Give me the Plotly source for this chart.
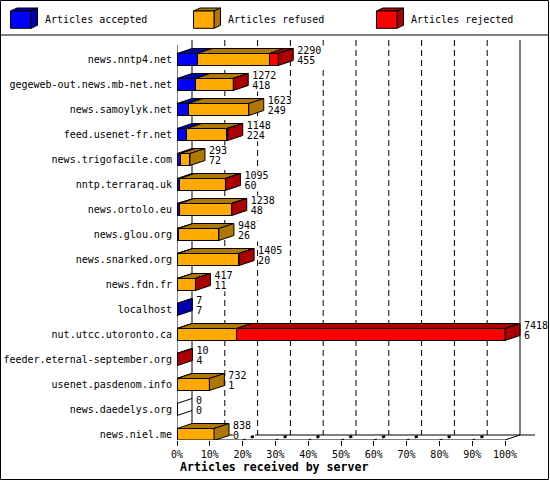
import plotly.graph_objects as go

servers = ["news.nntp4.net", "gegeweb-out.news.mb-net.net", "news.samoylyk.net", "feed.usenet-fr.net",
           "news.trigofacile.com", "nntp.terraraq.uk", "news.ortolo.eu", "news.glou.org",
           "news.snarked.org", "news.fdn.fr", "localhost", "nut.utcc.utoronto.ca",
           "feeder.eternal-september.org", "usenet.pasdenom.info", "news.daedelys.org", "news.niel.me"]
received = [2290, 1272, 1623, 1148, 293, 1095, 1238, 948, 1405, 417, 7, 7418, 10, 732, 0, 838]
accepted = [455, 418, 249, 224, 72, 60, 48, 26, 20, 11, 7, 6, 4, 1, 0, 0]
refused = [1632, 850, 1374, 904, 221, 1030, 1180, 922, 1375, 400, 0, 1338, 0, 731, 0, 838]
rejected = [203, 4, 0, 20, 0, 5, 10, 0, 10, 6, 0, 6074, 6, 0, 0, 0]
percent_ticks = [0, 10, 20, 30, 40, 50, 60, 70, 80, 90, 100]
series_names = ["Articles accepted", "Articles refused", "Articles rejected"]
front_colors = ["#0000FF", "#FFAA00", "#FF0000"]
dark_colors = ["#0000AA", "#AF7800", "#AA0000"]

W, H = 550, 480
L, R, T, B = 177, 5, 36, 40
PX_PER_PCT = 3.28
ROW_PX = 25.0
ROW0_PX = 59.5
DX_PX, DY_PX = 15, 5
BAR_PX = 12

DX = DX_PX / PX_PER_PCT
DY = DY_PX / ROW_PX
HALF = BAR_PX / ROW_PX / 2
TEXT = "DejaVu Sans Mono"
scale = 100.0 / max(received)


def px_x(p):
    return (p - L) / PX_PER_PCT


def px_y(p):
    return (p - ROW0_PX) / ROW_PX


def pap_x(p):
    return (p - L) / (W - L - R)


def pap_y(p):
    return 1 - (p - T) / (H - T - B)


rows = list(range(len(servers)))
all_series = [accepted, refused, rejected]
fig = go.Figure()

# front faces
for name, vals, col in zip(series_names, all_series, front_colors):
    fig.add_bar(y=rows, x=[v * scale for v in vals], orientation="h", name=name, width=2 * HALF,
                marker=dict(color=col, line=dict(color="black", width=1)), showlegend=False)

# top and side faces
tops = [([], []) for _ in all_series]
sides = [([], []) for _ in all_series]
bare_x, bare_y = [], []
for i in rows:
    start = 0.0
    last = None
    yt, yb = i - HALF, i + HALF
    for k, vals in enumerate(all_series):
        if vals[i] <= 0:
            continue
        end = start + vals[i] * scale
        tops[k][0].extend([start, start + DX, end + DX, end, start, None])
        tops[k][1].extend([yt, yt - DY, yt - DY, yt, yt, None])
        start = end
        last = k
    if last is None:
        bare_x.extend([0, DX, None, 0, DX, None])
        bare_y.extend([yt, yt - DY, None, yb, yb - DY, None])
    else:
        sides[last][0].extend([start, start + DX, start + DX, start, start, None])
        sides[last][1].extend([yt, yt - DY, yb - DY, yb, yt, None])

for k, name in enumerate(series_names):
    for xs, ys in (tops[k], sides[k]):
        if xs:
            fig.add_scatter(x=xs, y=ys, mode="lines", fill="toself", fillcolor=dark_colors[k],
                            line=dict(color="black", width=1), hoverinfo="skip",
                            showlegend=False, cliponaxis=False, name=name)

# floor pieces
fx, fy = [], []
blob_x, blob_y = [], []
base = px_y(440)
fx += [px_x(161.7), 0, None, 0, 100, None, 100, 100 + DX, None]
fy += [px_y(445), base, None, base, base, None, base, base - DY, None]
for t in percent_ticks[2:-1]:
    fx += [t, t + 0.2 * DX, None]
    fy += [base, base - 0.2 * DY, None]
    blob_x += [t + 0.55 * DX, t + 0.75 * DX, None]
    blob_y += [base - 0.55 * DY, base - 0.75 * DY, None]
fig.add_scatter(x=fx + bare_x, y=fy + bare_y, mode="lines", line=dict(color="black", width=1),
                hoverinfo="skip", showlegend=False, cliponaxis=False)
fig.add_scatter(x=blob_x, y=blob_y, mode="lines", line=dict(color="black", width=2.5),
                hoverinfo="skip", showlegend=False, cliponaxis=False)

# value labels
lab_x = [v * scale + 19 / PX_PER_PCT for v in received]
upper_y = [i - 8.5 / ROW_PX for i in rows]
lower_y = [i + 2 / ROW_PX for i in rows]
fig.add_scatter(x=lab_x, y=upper_y, mode="text", text=[str(v) for v in received],
                textposition="middle right", textfont=dict(family=TEXT, size=10, color="black"),
                hoverinfo="skip", showlegend=False, cliponaxis=False)
fig.add_scatter(x=lab_x, y=lower_y, mode="text", text=[str(v) for v in accepted],
                textposition="middle right", textfont=dict(family=TEXT, size=10, color="black"),
                hoverinfo="skip", showlegend=False, cliponaxis=False)

shapes = []
# back-plane grid and axes, under the bars
for t in percent_ticks:
    solid = t in (0, 100)
    shapes.append(dict(type="line", xref="x", yref="y", x0=t + DX, x1=t + DX,
                       y0=px_y(40), y1=px_y(435), layer="below",
                       line=dict(color="black", width=1, dash="solid" if solid else "6px,4px")))
shapes.append(dict(type="line", xref="x", yref="y", x0=DX, x1=px_x(535), y0=px_y(435), y1=px_y(435),
                   layer="below", line=dict(color="black", width=1)))
shapes.append(dict(type="line", xref="x", yref="y", x0=0, x1=0, y0=px_y(45), y1=px_y(440),
                   layer="below", line=dict(color="black", width=1)))

# value labels mask the grid behind them
for i, x, tot, acc in zip(rows, lab_x, received, accepted):
    chars = max(len(str(tot)), len(str(acc)))
    shapes.append(dict(type="rect", xref="x", yref="y", x0=x, x1=x + (chars * 6 + 4) / PX_PER_PCT,
                       y0=i - 14 / ROW_PX, y1=i + 7 / ROW_PX, layer="below",
                       fillcolor="white", line=dict(width=0)))

# frame and legend band
shapes.append(dict(type="rect", xref="paper", yref="paper", x0=pap_x(0.5), x1=pap_x(548.5),
                   y0=pap_y(479.5), y1=pap_y(0.5), line=dict(color="black", width=1), fillcolor="rgba(0,0,0,0)"))
shapes.append(dict(type="line", xref="paper", yref="paper", x0=pap_x(0.5), x1=pap_x(548.5),
                   y0=pap_y(35), y1=pap_y(35), line=dict(color="black", width=1)))

annotations = []
legend_x = [10.5, 193.5, 376.5]


def path(points):
    return "M" + " L".join(f"{pap_x(a)},{pap_y(b)}" for a, b in points) + " Z"


for lx, name, col, dark in zip(legend_x, series_names, front_colors, dark_colors):
    x0, x1, y0, y1 = lx, lx + 20.5, 11, 28.3
    ddx, ddy = 6.5, 3
    for pts, c in (([(x0, y0), (x0 + ddx, y0 - ddy), (x1 + ddx, y0 - ddy), (x1, y0)], dark),
                   ([(x1, y0), (x1 + ddx, y0 - ddy), (x1 + ddx, y1 - ddy), (x1, y1)], dark),
                   ([(x0, y0), (x1, y0), (x1, y1), (x0, y1)], col)):
        shapes.append(dict(type="path", xref="paper", yref="paper", path=path(pts), fillcolor=c,
                           line=dict(color="black", width=1)))
    annotations.append(dict(text=name, xref="paper", yref="paper", x=pap_x(lx + 32), y=pap_y(20),
                            xanchor="left", yanchor="middle", showarrow=False,
                            font=dict(family=TEXT, size=10, color="black")))

annotations.append(dict(text="<b>Articles received by server</b>", xref="paper", yref="paper",
                        x=pap_x(273.5), y=pap_y(467), xanchor="center", yanchor="middle", showarrow=False,
                        font=dict(family=TEXT, size=11.6, color="black")))

fig.update_layout(
    width=W, height=H, barmode="stack", showlegend=False,
    paper_bgcolor="white", plot_bgcolor="white",
    margin=dict(l=L, r=R, t=T, b=B, pad=0),
    shapes=shapes, annotations=annotations, hovermode=False,
    font=dict(family=TEXT, size=10, color="black"),
    xaxis=dict(range=[0, (W - L - R) / PX_PER_PCT], tickvals=percent_ticks, automargin=False,
               ticktext=[f"{t}%" for t in percent_ticks], showgrid=False, zeroline=False,
               showline=False, ticks="outside", ticklen=5, tickcolor="black", tickwidth=1,
               tickfont=dict(family=TEXT, size=10, color="black"), tickangle=0),
    yaxis=dict(range=[px_y(H - B), px_y(T)], tickvals=rows, ticktext=servers, showgrid=False, automargin=False,
               zeroline=False, showline=False, ticks="outside", ticklen=2, tickcolor="rgba(0,0,0,0)",
               tickfont=dict(family=TEXT, size=10, color="black")),
)

fig.write_html("out.html", post_script="document.body.style.margin='0';",
               config=dict(displayModeBar=False))
